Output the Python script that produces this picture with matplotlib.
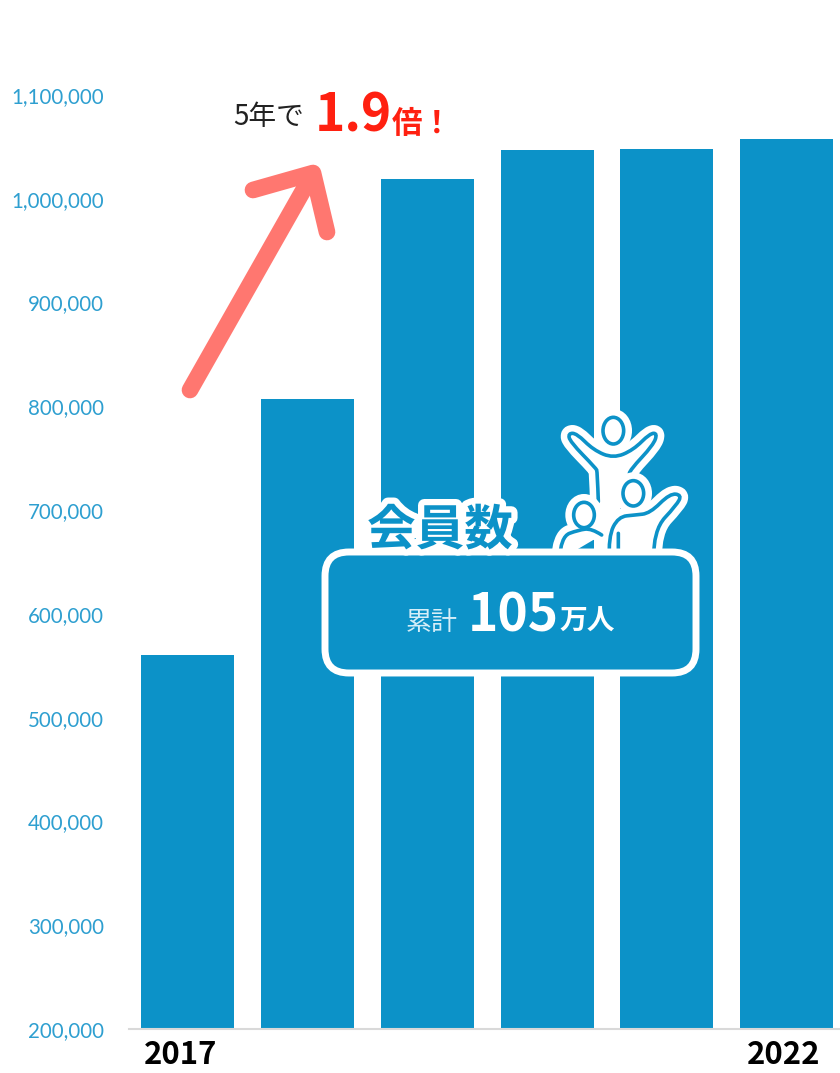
import matplotlib
matplotlib.use('Agg')
import matplotlib.pyplot as plt
import matplotlib.patheffects as pe
from matplotlib.patches import FancyBboxPatch, Ellipse, PathPatch
from matplotlib.path import Path
from matplotlib.transforms import ScaledTranslation

plt.rcParams['font.family'] = ['Noto Sans CJK JP', 'DejaVu Sans']

years = [2017, 2018, 2019, 2020, 2021, 2022]
members = [560500, 807000, 1019000, 1047000, 1048000, 1057500]
year_labels = ['2017', '', '', '', '', '2022']
y_ticks = [200000, 300000, 400000, 500000, 600000, 700000, 800000, 900000, 1000000, 1100000]

BLUE = '#0C92C8'
TICK = '#2E9FD0'
W, H = 840, 1073

fig = plt.figure(figsize=(W / 100, H / 100), dpi=100)
ax = fig.add_axes([129 / W, 1 - 1029 / H, (W - 129) / W, (1029 - 95) / H])
ax.bar(range(len(years)), members, width=0.775, color=BLUE)
ax.set_xlim(-0.49, 5.445)
ax.set_ylim(200000, 1100000)
ax.set_yticks(y_ticks)
ax.set_yticklabels(['{:,}'.format(v) for v in y_ticks], family='Lato', fontsize=14.8, color=TICK)
ax.set_xticks(range(len(years)))
ax.set_xticklabels(year_labels, fontsize=22.4, fontweight='bold', color='black')
ax.tick_params(axis='y', length=0, pad=18)
ax.tick_params(axis='x', length=0, pad=7)
for s in ['top', 'left', 'right']:
    ax.spines[s].set_visible(False)
ax.spines['bottom'].set_color('#D9D9D9')
ax.spines['bottom'].set_linewidth(1.5)
# year labels sit a little left of the bar centres
labs = ax.get_xticklabels()
for lab, dx in [(labs[0], -7), (labs[5], -3)]:
    lab.set_transform(lab.get_transform() + ScaledTranslation(dx / 100, 0, fig.dpi_scale_trans))

# overlay in pixel coordinates for the annotations
ov = fig.add_axes([0, 0, 1, 1])
ov.set_xlim(0, W)
ov.set_ylim(H, 0)
ov.axis('off')
ov.patch.set_alpha(0)

# growth arrow
ARROW = '#FF7770'
ov.plot([190, 312], [390, 175], color=ARROW, lw=12, solid_capstyle='round')
ov.plot([253, 313, 327], [190, 173, 232], color=ARROW, lw=12,
        solid_capstyle='round', solid_joinstyle='round')

ov.text(233, 125, '5年で', fontsize=20, color='#222222', va='baseline')
ov.text(315, 132, '1.9', fontsize=37, color='#FF2010', fontweight='bold', va='baseline')
ov.text(392, 133, '倍！', fontsize=22, color='#FF2010', fontweight='bold', va='baseline')


def zpt(p):
    return (320 + p[0] / 3, 400 + p[1] / 3)


def soft(pts):
    # quadratic curve through the midpoints, rounds off the corners
    pts = [zpt(p) for p in pts]
    verts = [pts[0]]
    codes = [Path.MOVETO]
    for i in range(1, len(pts) - 1):
        end = pts[i + 1] if i == len(pts) - 2 else ((pts[i][0] + pts[i + 1][0]) / 2, (pts[i][1] + pts[i + 1][1]) / 2)
        verts += [pts[i], end]
        codes += [Path.CURVE3, Path.CURVE3]
    return Path(verts, codes)


def person(head, body, z, extra=None):
    # white halo, then the body, then the head on top
    hx, hy = zpt(head[:2])
    hw, hh = head[2] / 3, head[3] / 3
    ov.add_patch(Ellipse((hx, hy), hw, hh, fc='white', ec='white', lw=12, zorder=z))
    path = soft(body)
    ov.add_patch(PathPatch(path, fc='white', ec='white', lw=12, joinstyle='round', zorder=z))
    ov.add_patch(PathPatch(path, fc='none', ec=BLUE, lw=2.6, capstyle='round', zorder=z + 0.1))
    if extra:
        ov.add_patch(PathPatch(soft(extra), fc='none', ec=BLUE, lw=2.6, capstyle='round', zorder=z + 0.1))
    ov.add_patch(Ellipse((hx, hy), hw, hh, fc='white', ec=BLUE, lw=2.6, zorder=z + 0.2))


person((880, 92, 62, 80),
       [(835, 305), (832, 215), (828, 205), (750, 125), (745, 100), (770, 100), (820, 150), (880, 175),
        (940, 150), (990, 100), (1012, 100), (1000, 135), (930, 210), (928, 220)], 3)
person((940, 280, 62, 76),
       [(868, 480), (865, 410), (895, 350), (945, 345), (990, 340), (1050, 280), (1085, 285),
        (1070, 315), (1000, 390), (1000, 480)], 3.3,
       extra=[(895, 400), (895, 440), (895, 480)])
person((792, 345, 62, 76),
       [(718, 480), (722, 410), (775, 390), (815, 385), (845, 405)], 3.6)

# member box
ov.add_patch(FancyBboxPatch((325, 552), 371, 121, boxstyle='round,pad=0,rounding_size=24',
                            fc=BLUE, ec='white', lw=5, zorder=4))

ov.text(367, 545, '会員数', fontsize=35, color=BLUE, fontweight='bold', va='baseline',
        path_effects=[pe.withStroke(linewidth=9, foreground='white')], zorder=5)
ov.text(406, 630, '累計', fontsize=18.7, color='#D5EEF8', va='baseline', zorder=5)
ov.text(468, 631, '105', fontsize=37, color='white', fontweight='bold', va='baseline', zorder=5)
ov.text(559, 630, '万人', fontsize=20, color='white', fontweight='bold', va='baseline', zorder=5)

fig.savefig('out.png', dpi=100)
